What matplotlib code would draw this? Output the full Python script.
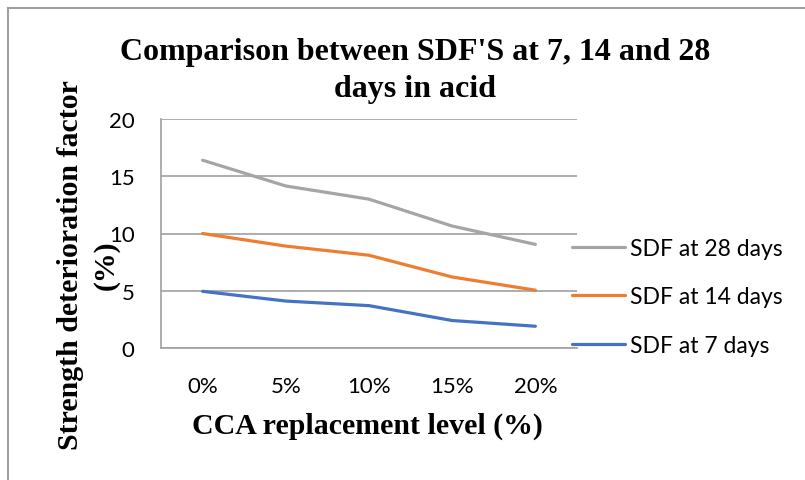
import matplotlib.pyplot as plt
from matplotlib.lines import Line2D

# data
levels = ["0%", "5%", "10%", "15%", "20%"]
sdf_28 = [16.4, 14.15, 13.0, 10.65, 9.05]
sdf_14 = [10.0, 8.9, 8.1, 6.2, 5.05]
sdf_7 = [4.95, 4.1, 3.7, 2.4, 1.9]
yticks = [0, 5, 10, 15, 20]

W, H = 805, 481
fig = plt.figure(figsize=(W / 100, H / 100), dpi=100)
ax = fig.add_axes([161 / W, 1 - 349 / H, (577 - 161) / W, (349 - 120) / H])

x = list(range(len(levels)))
ax.plot(x, sdf_28, color="#A5A5A5", lw=2.3, label="SDF at 28 days", solid_capstyle="round")
ax.plot(x, sdf_14, color="#ED7D31", lw=2.3, label="SDF at 14 days", solid_capstyle="round")
ax.plot(x, sdf_7, color="#4472C4", lw=2.3, label="SDF at 7 days", solid_capstyle="round")

ax.set_xlim(-0.5, len(levels) - 0.5)
ax.set_ylim(0, 20)
ax.set_yticks(yticks)
ax.set_xticks(x)
ax.set_xticklabels(levels)
ax.yaxis.grid(True, color="#A0A0A0", lw=1.2)
ax.set_axisbelow(True)
for s in ["top", "right"]:
    ax.spines[s].set_visible(False)
for s in ["left", "bottom"]:
    ax.spines[s].set_color("#A0A0A0")
    ax.spines[s].set_linewidth(1.2)
ax.tick_params(length=0, labelsize=16, colors="black")
ax.tick_params(axis="y", pad=19)
ax.tick_params(axis="x", pad=20)
for t in ax.get_xticklabels() + ax.get_yticklabels():
    t.set_fontfamily("Lato")

serif = "Liberation Serif"
fig.text(415 / W, 1 - 71 / H, "Comparison between SDF'S at 7, 14 and 28\ndays in acid",
         ha="center", va="center", fontsize=23, fontweight="bold", family=serif,
         linespacing=1.35)
# y label, two lines drawn separately
fig.text(71 / W, 1 - 265 / H, "Strength deterioration factor", rotation=90,
         ha="center", va="center", fontsize=21.5, fontweight="bold", family=serif)
fig.text(106 / W, 1 - 265 / H, "(%)", rotation=90,
         ha="center", va="center", fontsize=21.5, fontweight="bold", family=serif)
fig.text(367 / W, 1 - 426 / H, "CCA replacement level (%)", ha="center", va="center",
         fontsize=21.5, fontweight="bold", family=serif)

leg = fig.legend(loc="center left", bbox_to_anchor=(572 / W, 1 - 298 / H),
                 frameon=False, borderpad=0, borderaxespad=0,
                 handlelength=2.3, handletextpad=0.22, labelspacing=1.2,
                 prop={"family": "Lato", "size": 16.5})

# outer chart border (top and left edges visible)
fig.add_artist(Line2D([8 / W, 8 / W], [0, 1 - 9 / H], color="#A0A0A0", lw=1.5))
fig.add_artist(Line2D([8 / W, 1], [1 - 9 / H, 1 - 9 / H], color="#A0A0A0", lw=1.5))

fig.savefig("out.png", dpi=100)
